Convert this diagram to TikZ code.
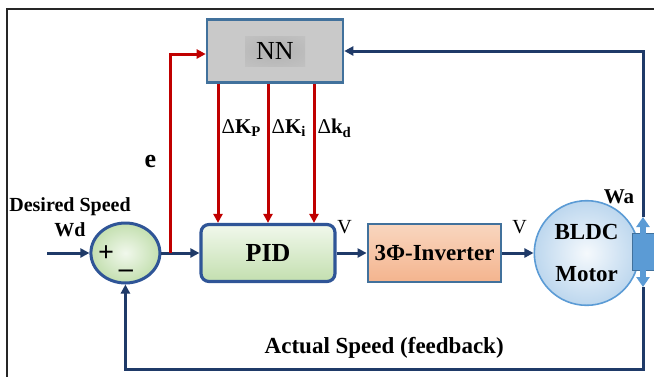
\documentclass[tikz,border=0pt]{standalone}
\usepackage{fontspec}
\setmainfont{Liberation Serif}
\usetikzlibrary{arrows.meta, positioning, shapes.geometric}
\definecolor{linenavy}{HTML}{1F3A68}
\definecolor{gainred}{HTML}{C00000}
\definecolor{boxblue}{HTML}{41719C}
\definecolor{darkblue}{HTML}{2F5597}
\definecolor{nngray}{HTML}{C9C9C9}
\definecolor{greentop}{HTML}{F1F8EC}
\definecolor{greenbottom}{HTML}{C3DFAF}
\definecolor{peachtop}{HTML}{F9D6BF}
\definecolor{peachbottom}{HTML}{F4B48E}
\definecolor{motorblue}{HTML}{BDD7EE}
\definecolor{shaftblue}{HTML}{5B9BD5}

\begin{document}
\begin{tikzpicture}[x=0.5pt, y=-0.5pt,
        every node/.style={font=\fontsize{10}{12.5}\bfseries, align=center},
        block/.style={draw=boxblue, line width=1.3pt},
        flow/.style={draw=linenavy, line width=1.5pt},
        gain/.style={draw=gainred, line width=1.5pt},
        volt/.style={font=\fontsize{10}{12}\selectfont, above=5.5pt},
        sign/.style={font=\fontsize{14}{15}\bfseries, inner sep=0pt},
        >={Triangle[length=4.5pt,width=4.5pt]}]
        \useasboundingbox (0,0) rectangle (654,376);
        \draw[line width=1.2pt, black!85] (660,9) -- (7,9) -- (7,380);

        % forward path
        \node[block, draw=darkblue, line width=1.6pt, rounded corners=4pt,
            minimum width=67pt, minimum height=28.5pt,
            top color=greentop, bottom color=greenbottom,
            font=\fontsize{13}{15}\bfseries] (pid) at (268,253) {PID};
        \node[ellipse, draw=darkblue, line width=1.5pt,
            minimum width=34.5pt, minimum height=30pt,
            inner color=greentop, outer color=greenbottom,
            left=19pt of pid] (sum) {};
        \node[block, minimum width=65pt, minimum height=29pt,
            top color=peachtop, bottom color=peachbottom,
            font=\fontsize{11.5}{13}\bfseries, right=15pt of pid] (inv) {3Φ-Inverter};
        \node[circle, draw=shaftblue, line width=0.8pt, minimum size=52pt,
            inner color=white!85!motorblue, outer color=motorblue,
            font=\fontsize{11.5}{21}\bfseries, right=15.5pt of inv] (motor) {BLDC\\Motor};
        \node[block, fill=nngray, minimum width=68pt, minimum height=31.5pt,
            font=\fontsize{13}{15}\selectfont,
            path picture={\shade[inner color=gray!60, outer color=nngray]
                ([xshift=-15pt,yshift=-7.5pt]path picture bounding box.center)
                rectangle ([xshift=15pt,yshift=7.5pt]path picture bounding box.center);}] (nn) at (275,51) {NN};

        \node[sign] (plus) at (106,254) {+};
        \node[sign] (minus) at (126,274) {–};
        \node (wd) at (70,217) {Desired Speed\\Wd};
        \node[font=\fontsize{10.5}{12}\bfseries] (wa) at (619,197) {Wa};

        \coordinate (in) at (47,253);
        \coordinate[right=4.5pt of sum.east] (e);
        \coordinate (fbtop) at (643,217);
        \coordinate (fbbot) at (643,287);

        % motor shaft
        \draw[fill=shaftblue, draw=boxblue, line width=0.5pt] (632,233) rectangle (656,270);

        \draw[flow, ->] (in) -- (sum);
        \draw[flow, ->] (sum) -- (pid);
        \draw[flow, ->] (pid) -- node[volt, pos=0.27] {V} (inv);
        \draw[flow, ->] (inv) -- node[volt, pos=0.55] {V} (motor);
        \draw[flow, ->] (fbtop) |- (nn.east);
        \draw[flow, ->] (fbbot) -- ++(0,82) -| node[pos=0.25, above=1pt,
            font=\fontsize{11.5}{13}\bfseries] {Actual Speed (feedback)} (sum.south);
        \draw[line width=3pt, shaftblue, {Triangle[length=5pt,width=6.5pt]}-{Triangle[length=5pt,width=6.5pt]}]
            (fbtop) -- (fbbot);

        % NN tuning of the gains
        \draw[gain, ->] (e) |- node[pos=0.23, left=3pt, font=\fontsize{13}{15}\bfseries] {e}
            ([yshift=-1.5pt]nn.west);
        \foreach \k/\dx/\lab in {p/-25pt/{K\textsubscript{P}}, i/0pt/{K\textsubscript{i}}, d/23pt/{k\textsubscript{d}}} {
            \coordinate (k\k) at ([xshift=\dx]pid.north);
            \draw[gain, ->] (nn.south -| k\k) -- node[pos=0.32, right=0pt, inner sep=1pt,
                font=\fontsize{10.5}{12}\bfseries] {{\mdseries Δ}\lab} (k\k);
        }
    \end{tikzpicture}
\end{document}
